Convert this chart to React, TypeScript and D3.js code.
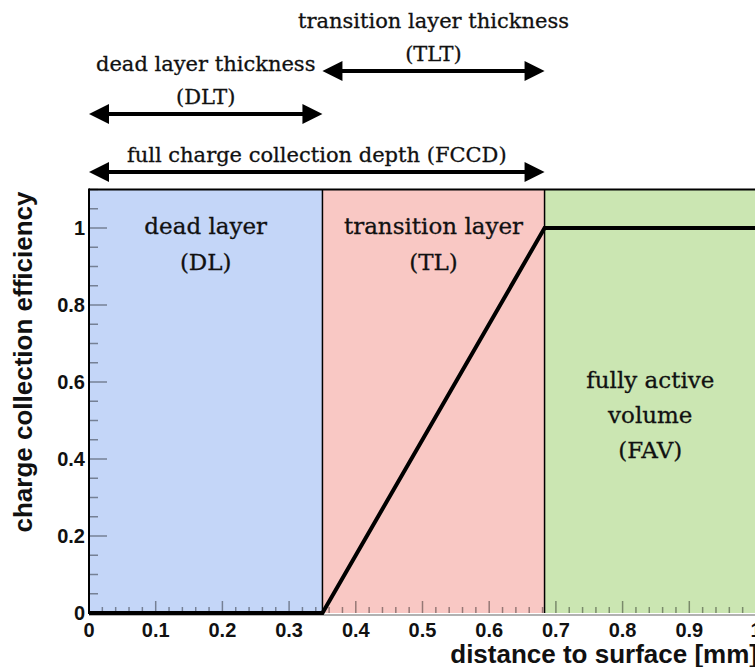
import React from "react";
import * as d3 from "d3";

// Charge collection efficiency model across the detector surface layers
const depthKnots = [0, 0.35, 0.683, 1.1];
const efficiencyKnots = [0, 0, 1, 1];

const regionStart = [0, 0.35, 0.683];
const regionEnd = [0.35, 0.683, 1.0];
const regionFill = ["#c4d6f8", "#f9c8c4", "#cbe6b2"];
const regionLabels = [
  ["dead layer", "(DL)"],
  ["transition layer", "(TL)"],
  ["fully active", "volume", "(FAV)"],
];
const regionLabelTop = [0.985, 0.985, 0.584];

// Thickness annotations drawn above the frame
const spanFrom = [0.35, 0, 0];
const spanTo = [0.683, 0.35, 0.683];
const spanTitles = [
  ["transition layer thickness", "(TLT)"],
  ["dead layer thickness", "(DLT)"],
  ["full charge collection depth (FCCD)"],
];
const spanArrowY = [71, 114, 172];

const xTicks = [0, 0.1, 0.2, 0.3, 0.4, 0.5, 0.6, 0.7, 0.8, 0.9, 1];
const yTicks = [0, 0.2, 0.4, 0.6, 0.8, 1];

const W = 755;
const H = 667;
const serif = "'DejaVu Serif', 'Liberation Serif', serif";
const sans = "'Liberation Sans', Arial, sans-serif";

export default function App() {
  const x = d3.scaleLinear().domain([0, 1]).range([89, 756]);
  const y = d3.scaleLinear().domain([0, 1.1]).range([613, 189.5]);

  const xMinor = d3.range(0, 1.0001, 0.02);
  const yMinor = d3.range(0, 1.1001, 0.05);

  const line = d3
    .line<number>()
    .x((_, i) => x(depthKnots[i]))
    .y((d) => y(d));

  const arrow = (x0: number, x1: number, yy: number, key: string) => {
    const hl = 20;
    const hw = 10;
    return (
      <g key={key}>
        <line x1={x0 + hl - 2} x2={x1 - hl + 2} y1={yy} y2={yy} stroke="#000" strokeWidth={4} />
        <path d={`M${x0},${yy} L${x0 + hl},${yy - hw} L${x0 + hl},${yy + hw} Z`} fill="#000" />
        <path d={`M${x1},${yy} L${x1 - hl},${yy - hw} L${x1 - hl},${yy + hw} Z`} fill="#000" />
      </g>
    );
  };

  return (
    <svg
      width={W}
      height={H}
      style={{ position: "absolute", left: 0, top: 0, background: "#fff" }}
    >
      {/* layer fills */}
      {regionStart.map((s, i) => (
        <rect
          key={"r" + i}
          x={x(s)}
          y={y(1.1)}
          width={x(regionEnd[i]) - x(s)}
          height={y(0) - y(1.1)}
          fill={regionFill[i]}
        />
      ))}

      {/* ticks */}
      <g stroke="#000" strokeOpacity={0.4} strokeWidth={1.5}>
        {xMinor.map((v, i) => {
          const major = i % 5 === 0;
          return (
            <line key={"xt" + i} x1={x(v)} x2={x(v)} y1={y(0)} y2={y(0) - (major ? 12 : 6)} />
          );
        })}
        {yMinor.map((v, i) => {
          const major = i % 4 === 0;
          return (
            <line key={"yt" + i} x1={x(0)} x2={x(0) + (major ? 18 : 9)} y1={y(v)} y2={y(v)} />
          );
        })}
      </g>

      {/* layer boundaries */}
      {regionEnd.slice(0, 2).map((b, i) => (
        <line key={"b" + i} x1={x(b)} x2={x(b)} y1={y(1.1)} y2={y(0)} stroke="#000" strokeWidth={1.5} />
      ))}

      {/* frame */}
      <line x1={x(0)} x2={W} y1={y(1.1)} y2={y(1.1)} stroke="#000" strokeWidth={2} />
      <line x1={x(0)} x2={x(0)} y1={y(1.1) - 1} y2={y(0) + 1} stroke="#000" strokeWidth={2} />
      <line x1={x(0)} x2={W} y1={y(0) + 2} y2={y(0) + 2} stroke="#999" strokeWidth={1.5} />

      {/* efficiency curve */}
      <path
        d={line(efficiencyKnots) || ""}
        fill="none"
        stroke="#000"
        strokeWidth={4}
        strokeLinejoin="miter"
      />

      {/* region labels */}
      {regionLabels.map((lines, i) => {
        const cx = x((regionStart[i] + regionEnd[i]) / 2);
        const spacing = i === 2 ? 35 : 36;
        return (
          <text
            key={"l" + i}
            x={cx}
            textAnchor="middle"
            fontFamily={serif}
            fontSize={23}
            fill="#111"
            stroke="#111"
            strokeWidth={0.3}
          >
            {lines.map((t, j) => (
              <tspan key={j} x={cx} y={y(regionLabelTop[i]) + j * spacing}>
                {t}
              </tspan>
            ))}
          </text>
        );
      })}

      {/* thickness annotations */}
      {spanFrom.map((s, i) => {
        const x0 = x(s);
        const x1 = x(spanTo[i]);
        const cx = (x0 + x1) / 2;
        const ay = spanArrowY[i];
        const titles = spanTitles[i];
        return (
          <g key={"s" + i}>
            {arrow(x0, x1, ay, "a" + i)}
            {titles.map((t, j) => (
              <text
                key={j}
                x={cx}
                y={ay - 10 - (titles.length - 1 - j) * 33}
                textAnchor="middle"
                fontFamily={serif}
                fontSize={21}
                fill="#111"
                stroke="#111"
                strokeWidth={0.3}
              >
                {t}
              </text>
            ))}
          </g>
        );
      })}

      {/* x tick labels */}
      {xTicks.map((v, i) => (
        <text
          key={"xl" + i}
          x={x(v)}
          y={637}
          textAnchor="middle"
          fontFamily={sans}
          fontWeight="bold"
          fontSize={20}
          fill="#111"
        >
          {d3.format("")(v)}
        </text>
      ))}

      {/* y tick labels */}
      {yTicks.map((v, i) => (
        <text
          key={"yl" + i}
          x={85}
          y={y(v)}
          dy="0.35em"
          textAnchor="end"
          fontFamily={sans}
          fontWeight="bold"
          fontSize={20}
          fill="#111"
        >
          {d3.format("")(v)}
        </text>
      ))}

      {/* axis titles */}
      <text
        x={758}
        y={663}
        textAnchor="end"
        fontFamily={sans}
        fontWeight="bold"
        fontSize={26}
        fill="#111"
      >
        distance to surface [mm]
      </text>
      <text
        transform={`translate(32, ${y(1.1) + 2}) rotate(-90)`}
        textAnchor="end"
        fontFamily={sans}
        fontWeight="bold"
        fontSize={26}
        fill="#111"
      >
        charge collection efficiency
      </text>
    </svg>
  );
}
